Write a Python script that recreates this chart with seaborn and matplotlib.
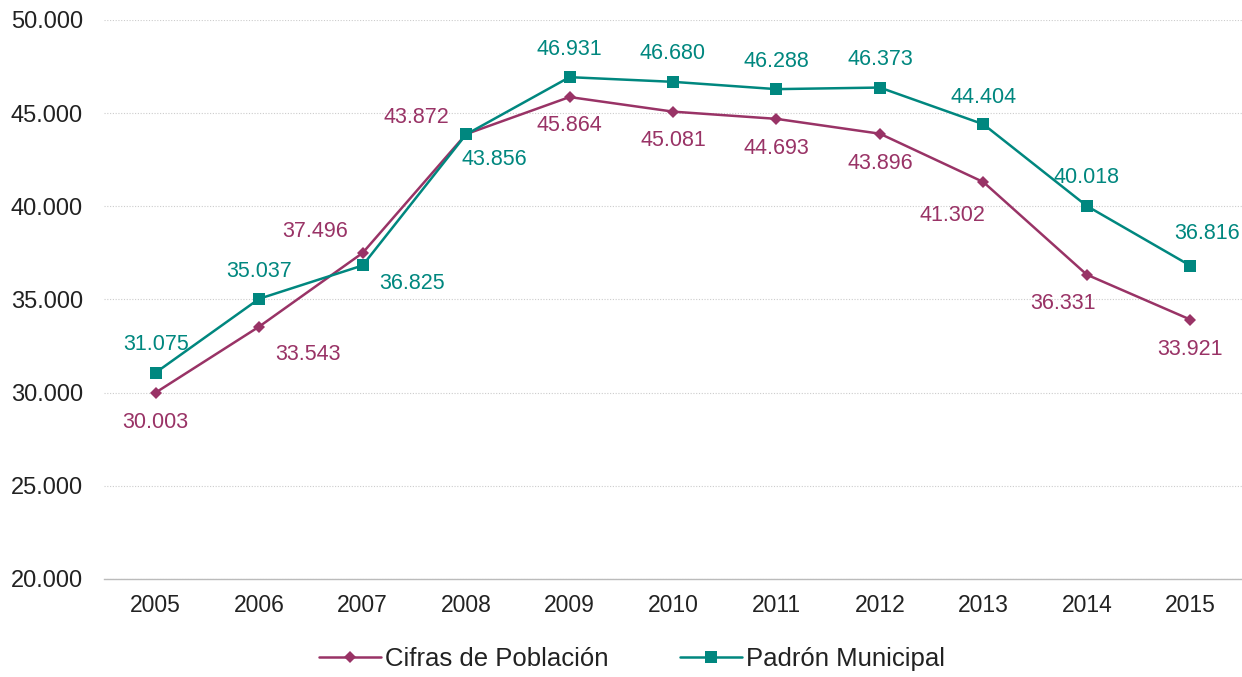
import numpy as np
import pandas as pd
import matplotlib.pyplot as plt
import seaborn as sns
from matplotlib.ticker import FuncFormatter, FixedLocator

years = ['2005', '2006', '2007', '2008', '2009', '2010', '2011', '2012', '2013', '2014', '2015']
cifras = [30003, 33543, 37496, 43872, 45864, 45081, 44693, 43896, 41302, 36331, 33921]
padron = [31075, 35037, 36825, 43856, 46931, 46680, 46288, 46373, 44404, 40018, 36816]

# label offsets in pixels (dx, dy) for each point
cifras_off = [(0, -30), (49, -28), (-47, 21), (-50, 17), (0, -28), (0, -29),
              (0, -30), (0, -30), (-31, -33), (-24, -29), (0, -30)]
padron_off = [(0, 28), (0, 27), (49, -18), (28, -25), (0, 28), (0, 28),
              (0, 28), (0, 28), (0, 27), (0, 28), (17, 32)]

c_col = '#993366'
p_col = '#00877f'

sns.set_style('white')
plt.rcParams['font.family'] = ['Liberation Sans', 'DejaVu Sans']

fig = plt.figure(figsize=(12.42, 6.77), dpi=100)
ax = fig.add_axes([0.0837, 0.1448, 0.9163, 0.8257])

x = np.arange(len(years))
df = pd.DataFrame({'x': x, 'cifras': cifras, 'padron': padron})

sns.lineplot(data=df, x='x', y='cifras', ax=ax, color=c_col, lw=1.8, marker='D',
             markersize=6, markeredgewidth=0, label='Cifras de Población')
sns.lineplot(data=df, x='x', y='padron', ax=ax, color=p_col, lw=1.8, marker='s',
             markersize=8, markeredgewidth=0, label='Padrón Municipal')

fmt = lambda v: f'{v:,.0f}'.replace(',', '.')
for i in range(len(years)):
    ax.annotate(fmt(cifras[i]), (x[i], cifras[i]), xytext=cifras_off[i],
                textcoords='offset pixels', ha='center', va='center',
                fontsize=15.5, color=c_col)
    ax.annotate(fmt(padron[i]), (x[i], padron[i]), xytext=padron_off[i],
                textcoords='offset pixels', ha='center', va='center',
                fontsize=15.5, color=p_col)

ax.set_xlim(-0.5, len(years) - 0.5)
ax.set_ylim(20000, 50000)
ax.set_yticks(np.arange(20000, 50001, 5000))
ax.yaxis.set_major_formatter(FuncFormatter(lambda v, p: fmt(v)))
ax.set_xticks(x)
ax.set_xticklabels(years)
ax.xaxis.set_minor_locator(FixedLocator(np.arange(-0.5, len(years), 1)))
ax.tick_params(axis='x', which='major', length=0, pad=11, labelsize=16.5, colors='#222222')
ax.tick_params(axis='x', which='minor', length=6, color='#bbbbbb', width=1)
ax.tick_params(axis='y', length=0, pad=15, labelsize=17, colors='#222222')
ax.set_xlabel('')
ax.set_ylabel('')

ax.grid(axis='y', color='#cccccc', linestyle=(0, (1, 1.5)), linewidth=0.8)
ax.set_axisbelow(True)
for s in ['top', 'right', 'left']:
    ax.spines[s].set_visible(False)
ax.spines['bottom'].set_color('#bbbbbb')
ax.spines['bottom'].set_linewidth(1)

ax.legend(loc='upper center', bbox_to_anchor=(0.464, -0.09), ncol=2,
          frameon=False, fontsize=18.5, handlelength=2.4, columnspacing=2.8,
          handletextpad=0.15, labelcolor='#222222', borderpad=0.2)

plt.savefig('out.png', dpi=100)
